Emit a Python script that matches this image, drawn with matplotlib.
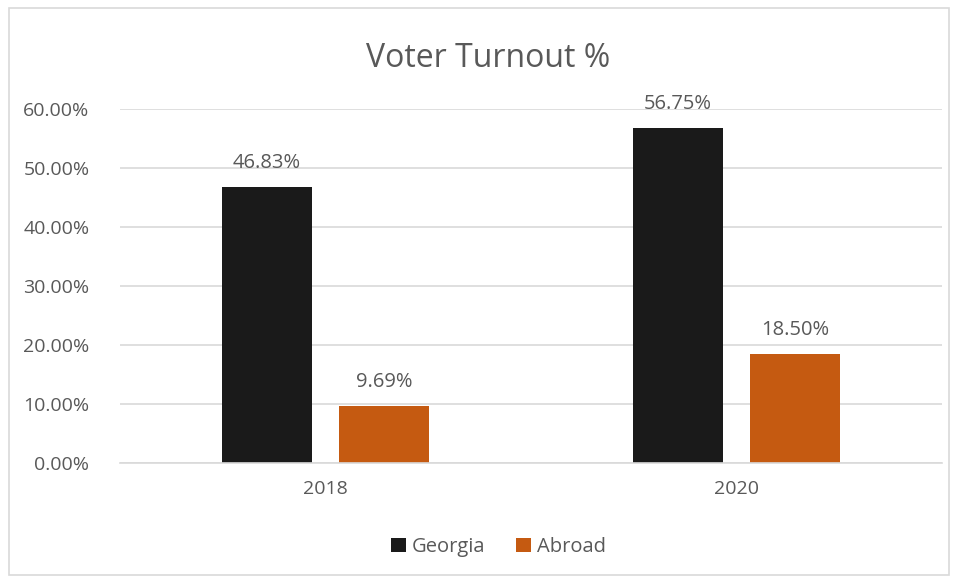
import matplotlib.pyplot as plt
import numpy as np
from matplotlib.patches import Rectangle
from matplotlib.ticker import PercentFormatter

plt.rcParams['font.family'] = ['Open Sans', 'DejaVu Sans']

years = ['2018', '2020']
georgia = [46.83, 56.75]
abroad = [9.69, 18.50]

text_color = '#595959'
grid_color = '#d9d9d9'

fig = plt.figure(figsize=(9.58, 5.82), dpi=100)
ax = fig.add_axes([0.1253, 0.2045, 0.858, 0.608])

x = np.arange(len(years))
width = 0.22
offset = 0.142

b1 = ax.bar(x - offset, georgia, width, color='#1a1a1a', label='Georgia')
b2 = ax.bar(x + offset, abroad, width, color='#c55a11', label='Abroad')

for bars, vals in [(b1, georgia), (b2, abroad)]:
    for bar, v in zip(bars, vals):
        ax.text(bar.get_x() + bar.get_width() / 2, v + 2.4, f'{v:.2f}%',
                ha='center', va='bottom', fontsize=14.5, color=text_color)

ax.set_xlim(-0.5, 1.5)
ax.set_ylim(0, 60)
ax.set_yticks(np.arange(0, 61, 10))
ax.yaxis.set_major_formatter(PercentFormatter(decimals=2))
ax.set_xticks(x)
ax.set_xticklabels(years)
ax.tick_params(length=0, labelsize=14, labelcolor=text_color)
ax.tick_params(axis='x', pad=12)
ax.tick_params(axis='y', pad=22)
ax.grid(axis='y', color=grid_color, linewidth=1.2)
ax.set_axisbelow(True)
for s in ['top', 'right', 'left']:
    ax.spines[s].set_visible(False)
ax.spines['bottom'].set_color(grid_color)
ax.spines['bottom'].set_linewidth(1.2)

fig.text(0.51, 0.9, 'Voter Turnout %', ha='center', va='center',
         fontsize=23, color=text_color)

fig.legend(loc='center', bbox_to_anchor=(0.52, 0.06), ncol=2, frameon=False,
           fontsize=14.5, labelcolor=text_color, handlelength=0.75,
           handleheight=0.75, handletextpad=0.3, columnspacing=1.5)

fig.add_artist(Rectangle((0.009, 0.012), 0.982, 0.975, transform=fig.transFigure,
                         fill=False, edgecolor=grid_color, linewidth=1.2))

fig.savefig('out.png', dpi=100)
